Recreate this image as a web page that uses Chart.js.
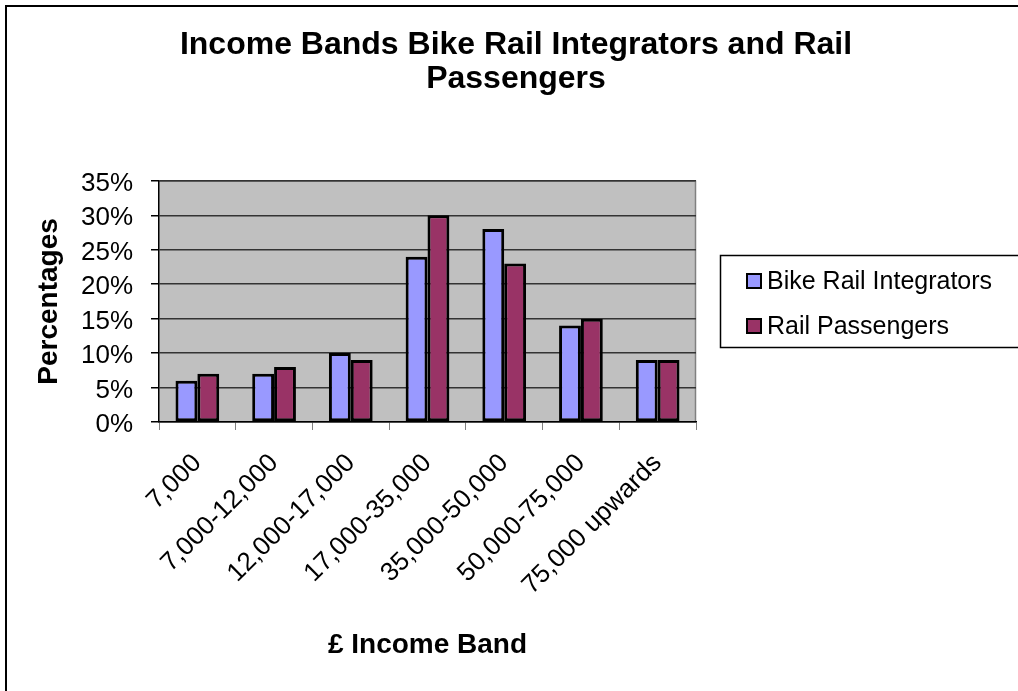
<!DOCTYPE html>
<html>
<head>
<meta charset="utf-8">
<script src="https://cdn.jsdelivr.net/npm/chart.js@4.4.1/dist/chart.umd.min.js"></script>
<style>
  html, body { margin: 0; padding: 0; background: #fff; overflow: hidden; }
  #wrap { position: relative; width: 1018px; height: 691px; }
  #frame { position: absolute; left: 5px; top: 5px; width: 1100px; height: 800px;
           border-left: 2px solid #000; border-top: 2px solid #000; pointer-events: none; }
  canvas { position: absolute; left: 0; top: 0; }
</style>
</head>
<body>
<div id="wrap">
  <canvas id="c" width="1018" height="691"></canvas>
  <div id="frame"></div>
</div>
<script>
const categories = ["7,000", "7,000-12,000", "12,000-17,000", "17,000-35,000", "35,000-50,000", "50,000-75,000", "75,000 upwards"];
const bikeRailIntegrators = [6, 7, 10, 24, 28, 14, 9];
const railPassengers = [7, 8, 9, 30, 23, 15, 9];
const seriesNames = ["Bike Rail Integrators", "Rail Passengers"];
const seriesColors = ["#9999FF", "#993366"];
const titleLines = ["Income Bands Bike Rail Integrators and Rail", "Passengers"];
const yAxisTitle = "Percentages";
const xAxisTitle = "£ Income Band";

const FONT = "Arial, 'Liberation Sans', sans-serif";

const plotBg = {
  id: 'plotBg',
  beforeDraw(chart) {
    const {ctx, chartArea: a} = chart;
    ctx.save();
    ctx.fillStyle = '#C0C0C0';
    ctx.fillRect(a.left, a.top, a.right - a.left, a.bottom - a.top);
    ctx.strokeStyle = '#808080';
    ctx.lineWidth = 1.5;
    ctx.beginPath();
    ctx.moveTo(a.left, a.top + 0.5);
    ctx.lineTo(a.right - 0.5, a.top + 0.5);
    ctx.lineTo(a.right - 0.5, a.bottom);
    ctx.stroke();
    ctx.restore();
  }
};

const boxLegend = {
  id: 'boxLegend',
  afterDraw(chart) {
    const {ctx} = chart;
    ctx.save();
    ctx.strokeStyle = '#000';
    ctx.lineWidth = 1.5;
    ctx.strokeRect(720.5, 255.5, 400, 92);
    ctx.font = "25px " + FONT;
    ctx.textBaseline = 'middle';
    ctx.textAlign = 'left';
    chart.data.datasets.forEach((ds, i) => {
      const cy = 281 + i * 45;
      ctx.fillStyle = ds.backgroundColor;
      ctx.fillRect(747, cy - 7, 14, 14);
      ctx.lineWidth = 2;
      ctx.strokeStyle = '#000';
      ctx.strokeRect(747, cy - 7, 14, 14);
      ctx.fillStyle = '#000';
      ctx.fillText(ds.label, 767, cy + 1);
    });
    ctx.restore();
  }
};

new Chart(document.getElementById('c'), {
  type: 'bar',
  data: {
    labels: categories,
    datasets: [
      { label: seriesNames[0], data: bikeRailIntegrators, backgroundColor: seriesColors[0] },
      { label: seriesNames[1], data: railPassengers, backgroundColor: seriesColors[1] }
    ]
  },
  options: {
    responsive: false,
    animation: false,
    events: [],
    layout: { padding: { left: 14, right: 0, top: 0, bottom: 0 } },
    datasets: {
      bar: {
        borderColor: '#000',
        borderWidth: 3,
        borderSkipped: false,
        categoryPercentage: 0.57,
        barPercentage: 1.0
      }
    },
    plugins: {
      legend: { display: false },
      tooltip: { enabled: false },
      title: {
        display: true,
        text: titleLines,
        color: '#000',
        font: { family: FONT, size: 32, weight: 'bold', lineHeight: 1.06 },
        padding: { top: 28, bottom: 85 }
      }
    },
    scales: {
      x: {
        position: 'bottom',
        afterFit(s) { s.height = 691 - 422; },
        grid: { drawOnChartArea: false, drawTicks: true, tickLength: 8, tickColor: '#808080', offset: true },
        border: { display: true, color: '#000', width: 1.5 },
        ticks: {
          color: '#000',
          font: { family: FONT, size: 26 },
          minRotation: 45, maxRotation: 45,
          autoSkip: false,
          padding: 18
        },
        title: {
          display: true, text: xAxisTitle, color: '#000',
          font: { family: FONT, size: 28, weight: 'bold' },
          padding: { top: 0, bottom: 29 }
        }
      },
      y: {
        position: 'left',
        min: 0, max: 35,
        afterFit(s) { s.width = 159 - 14; },
        grid: { color: '#333', lineWidth: 1.5, drawTicks: true, tickLength: 8, tickColor: '#000' },
        border: { display: true, color: '#000', width: 1.5 },
        ticks: {
          stepSize: 5,
          color: '#000',
          font: { family: FONT, size: 26 },
          padding: 18,
          labelOffset: 3,
          callback: v => v + '%'
        },
        title: {
          display: true, text: yAxisTitle, color: '#000',
          font: { family: FONT, size: 28, weight: 'bold' },
          padding: { top: 18, bottom: 0 }
        }
      },
      yRight: {
        position: 'right',
        display: true,
        afterFit(s) { s.width = 1018 - 696; },
        grid: { display: false },
        border: { display: false },
        ticks: { display: false }
      }
    }
  },
  plugins: [plotBg, boxLegend]
});
</script>
</body>
</html>
